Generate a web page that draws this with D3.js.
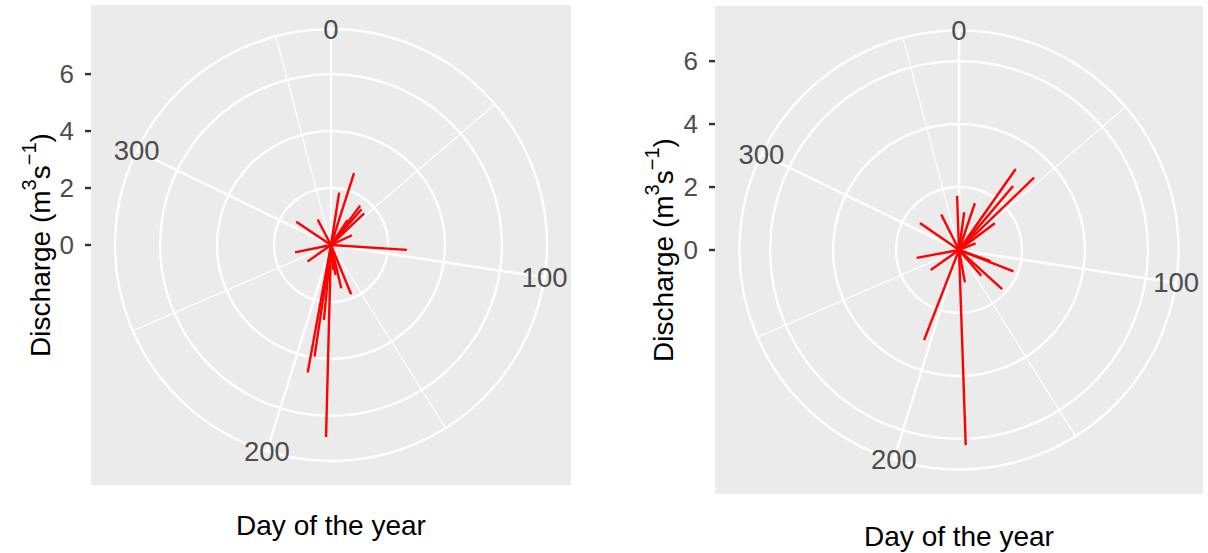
<!DOCTYPE html>
<html>
<head>
<meta charset="utf-8">
<script src="https://cdn.jsdelivr.net/npm/d3@7"></script>
<style>
  html, body { margin: 0; padding: 0; background: #ffffff; }
  svg { display: block; font-family: "Liberation Sans", Arial, sans-serif; }
</style>
</head>
<body>
<svg id="chart" width="1208" height="553"></svg>
<script>
// Day of year and discharge for each flow event, one pair of arrays per site
const siteADays = [18, 9, 34, 37, 41, 47, 66, 95, 308, 337, 262, 238, 160, 169, 174, 177, 184, 188, 191, 193];
const siteAQ    = [2.65, 1.86, 1.05, 1.72, 1.65, 1.61, 0.81, 2.67, 1.47, 1.01, 1.29, 1.01, 1.87, 1.56, 1.06, 0.88, 6.74, 2.64, 3.96, 4.55];

const siteBDays = [35.5, 46.7, 40.8, 54, 19, 363, 8, 338, 309, 263, 238, 113, 134, 111, 141, 172, 69, 138, 180.5, 204];
const siteBQ    = [3.14, 3.31, 2.66, 1.42, 1.57, 1.72, 1.21, 1.26, 1.51, 1.37, 1.10, 1.86, 1.85, 1.06, 1.08, 1.04, 0.57, 0.56, 6.20, 3.07];

// Axis breaks
const radialTicks = [0, 2, 4, 6];
const dayBreaks = [0, 100, 200, 300];
const dayMinorBreaks = [50, 150, 250, 350];
const dayRange = [0, 365];

const svg = d3.select("#chart");

function polarPanel(opts) {
  const { days, q, cx, cy, half, yTitleX, xTitleY } = opts;
  const size = half * 2;
  const g = svg.append("g");

  const theta = d3.scaleLinear().domain(dayRange).range([0, 2 * Math.PI]);
  const r = d3.scaleLinear().domain([0, d3.max(q)]).range([0, 0.4 * size]);
  const outerR = 0.45 * size;

  const px = (t, rad) => cx + rad * Math.sin(t);
  const py = (t, rad) => cy - rad * Math.cos(t);

  // panel background
  g.append("rect")
    .attr("x", cx - half).attr("y", cy - half)
    .attr("width", size).attr("height", size)
    .attr("fill", "#ebebeb");

  // angular grid spokes
  g.selectAll("line.minor").data(dayMinorBreaks).join("line")
    .attr("x1", cx).attr("y1", cy)
    .attr("x2", d => px(theta(d), outerR)).attr("y2", d => py(theta(d), outerR))
    .attr("stroke", "#ffffff").attr("stroke-width", 1.2);
  g.selectAll("line.major").data(dayBreaks).join("line")
    .attr("x1", cx).attr("y1", cy)
    .attr("x2", d => px(theta(d), outerR)).attr("y2", d => py(theta(d), outerR))
    .attr("stroke", "#ffffff").attr("stroke-width", 2.4);

  // radial grid rings
  const ringRadii = radialTicks.map(v => r(v)).filter(v => v > 0).concat([outerR]);
  g.selectAll("circle.ring").data(ringRadii).join("circle")
    .attr("cx", cx).attr("cy", cy).attr("r", d => d)
    .attr("fill", "none").attr("stroke", "#ffffff").attr("stroke-width", 2.4);

  // discharge segments
  g.selectAll("line.seg").data(d3.range(days.length)).join("line")
    .attr("x1", cx).attr("y1", cy)
    .attr("x2", i => px(theta(days[i]), r(q[i])))
    .attr("y2", i => py(theta(days[i]), r(q[i])))
    .attr("stroke", "#ff0000").attr("stroke-width", 2.4);

  // day labels on the outer ring
  g.selectAll("text.day").data(dayBreaks).join("text")
    .attr("x", d => px(theta(d), outerR))
    .attr("y", d => py(theta(d), outerR))
    .attr("text-anchor", "middle").attr("dominant-baseline", "central")
    .attr("fill", "#4d4d4d").attr("font-size", 27.5)
    .text(d => d);

  // radial axis on the left edge of the panel
  const axisX = cx - half;
  g.selectAll("line.tick").data(radialTicks).join("line")
    .attr("x1", axisX - 6).attr("x2", axisX)
    .attr("y1", d => cy - r(d)).attr("y2", d => cy - r(d))
    .attr("stroke", "#333333").attr("stroke-width", 2.4);
  g.selectAll("text.tick").data(radialTicks).join("text")
    .attr("x", axisX - 17).attr("y", d => cy - r(d))
    .attr("text-anchor", "end").attr("dominant-baseline", "central")
    .attr("fill", "#4d4d4d").attr("font-size", 26)
    .text(d => d);

  // axis titles
  const yt = g.append("text")
    .attr("transform", `translate(${yTitleX},${cy}) rotate(-90)`)
    .attr("text-anchor", "middle").attr("dominant-baseline", "central")
    .attr("fill", "#000000").attr("font-size", 28);
  yt.append("tspan").text("Discharge (m");
  yt.append("tspan").attr("font-size", 20).attr("dy", -11).text("3");
  yt.append("tspan").attr("dy", 11).text("s");
  yt.append("tspan").attr("font-size", 20).attr("dy", -11).text("\u22121");
  yt.append("tspan").attr("dy", 11).text(")");

  g.append("text")
    .attr("x", cx).attr("y", xTitleY)
    .attr("text-anchor", "middle")
    .attr("fill", "#000000").attr("font-size", 28)
    .text("Day of the year");
}

polarPanel({ days: siteADays, q: siteAQ, cx: 331, cy: 245, half: 240, yTitleX: 40, xTitleY: 535 });
polarPanel({ days: siteBDays, q: siteBQ, cx: 959, cy: 250, half: 244, yTitleX: 663, xTitleY: 546 });
</script>
</body>
</html>
